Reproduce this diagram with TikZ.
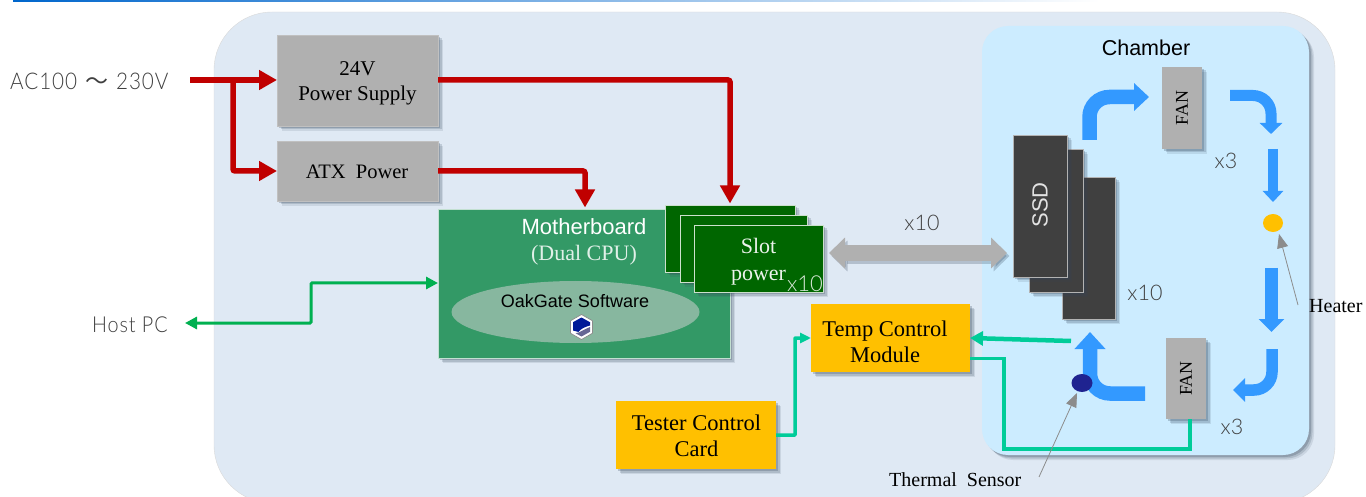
\documentclass[tikz,border=0pt]{standalone}
\usepackage{fontspec}
\usetikzlibrary{arrows.meta,shadows,positioning,shapes.geometric}
\setmainfont{Liberation Serif}
\setsansfont{Liberation Sans}
\newfontfamily\thinfont[UprightFont=* Light]{Lato}
\newfontfamily\thinnarrow[UprightFont=* Light,FakeStretch=.9,LetterSpace=4]{Lato}
\newfontfamily\cjkfont{Noto Sans CJK KR}
\definecolor{panelbg}{HTML}{DFE9F4}
\definecolor{chamberbg}{HTML}{CCECFF}
\definecolor{boxgrey}{HTML}{B0B0B0}
\definecolor{pwrred}{HTML}{C00000}
\definecolor{flowblue}{HTML}{3399FF}
\definecolor{gold}{HTML}{FFC000}
\definecolor{teal}{HTML}{00CC99}
\definecolor{hostgreen}{HTML}{00B050}
\definecolor{mbgreen}{HTML}{339966}
\definecolor{slotgreen}{HTML}{006600}
\definecolor{ssdgrey}{HTML}{404040}
\definecolor{labelgrey}{HTML}{404040}
\definecolor{shadowc}{HTML}{33455A}
\definecolor{ovalc}{HTML}{87B79F}
\definecolor{sensorc}{HTML}{1F2390}
\tikzset{
  shad/.style={
    drop shadow={shadow xshift=5pt,shadow yshift=-5pt,fill=shadowc,opacity=.12},
    drop shadow={shadow xshift=3.5pt,shadow yshift=-3.5pt,fill=shadowc,opacity=.18},
    drop shadow={shadow xshift=2pt,shadow yshift=-2pt,fill=shadowc,opacity=.25}},
  blk/.style={anchor=north west,inner sep=0pt,outer sep=0pt,shad},
  greybox/.style={blk,fill=boxgrey,draw=boxgrey!80!white,line width=.5pt},
  goldbox/.style={blk,fill=gold},
  slotbox/.style={blk,fill=slotgreen,draw=white!80!slotgreen,line width=.7pt},
  ssdbox/.style={blk,fill=ssdgrey,draw=white!60!ssdgrey,line width=.7pt},
  fanbox/.style={blk,fill=boxgrey,font=\fontsize{18}{20}\selectfont},
  goldtext/.style={font=\fontsize{22.5}{26}\selectfont,align=center,inner sep=0pt},
  boxtext/.style={align=center,inner sep=0pt},
  redline/.style={draw=pwrred,line width=5.5pt,rounded corners=2pt,-{Triangle[width=19pt,length=18pt]}},
  flow/.style={draw=flowblue,line width=#1},
  tealline/.style={draw=teal,line width=#1},
  hostline/.style={draw=hostgreen,line width=3pt,rounded corners=1pt,{Triangle[width=12pt,length=12pt]}-{Triangle[width=12pt,length=12pt]}},
  pointer/.style={draw=black!45,line width=.8pt,-{Triangle[width=11pt,length=14pt]}},
  thinlabel/.style={font=\thinfont\fontsize{21.5}{24}\selectfont,text=labelgrey,inner sep=0pt},
  serlabel/.style={font=\fontsize{20}{24}\selectfont,inner sep=0pt},
  bigarrow/.style={line width=16pt,{Triangle[width=30pt,length=16pt]}-{Triangle[width=30pt,length=16pt]}},
}
\begin{document}
\begin{tikzpicture}[x=1pt,y=-1pt]
\useasboundingbox (0,0) rectangle (1366,497);
\clip (0,0) rectangle (1366,497);
% top rule
\shade[left color=blue!50!cyan!80!black,right color=white] (13,0) rectangle (1100,1.2);
% panel
\fill[panelbg,draw=black!15,line width=.4pt,rounded corners=58pt] (214,12) rectangle (1335,503);
% chamber
\node[blk,fill=chamberbg,minimum width=327pt,minimum height=429pt,rounded corners=26pt] (chamber) at (982,26) {};
\node[font=\sffamily\fontsize{21.5}{24}\selectfont,inner sep=0pt] (chamberlbl) at (1146,48) {Chamber};

% power boxes
\node[greybox,minimum width=161pt,minimum height=91pt] (psu) at (277,35) {};
\node[boxtext,font=\fontsize{21}{25}\selectfont] (psul) at (357.5,83.5) {24V\\Power Supply};
\node[greybox,minimum width=161pt,minimum height=60pt] (atx) at (277,141) {};
\node[boxtext,font=\fontsize{20.5}{24}\selectfont] (atxl) at (357,172) {ATX\ \ Power};

% motherboard
\node[blk,fill=mbgreen,draw=white!70!mbgreen,line width=.7pt,minimum width=292pt,minimum height=149pt] (mb) at (438,209) {};
\node[font=\sffamily\fontsize{22}{24}\selectfont,text=white,inner sep=0pt] (mbl) at (584,227) {Motherboard};
\node[font=\fontsize{22}{24}\selectfont,text=white!85!mbgreen,inner sep=0pt] (mbl2) at (584,255.5) {(Dual CPU)};
\fill[fill=ovalc] (575.5,312) ellipse [x radius=124pt,y radius=31pt];
\node[font=\sffamily\fontsize{18}{20}\selectfont,inner sep=0pt] (oak) at (575,301) {OakGate Software};
% icon
\begin{scope}[shift={(581.5,327)}]
  \fill[white,draw=black!45,line width=.7pt] (0,-12.5) -- (11,-6.2) -- (11,6.2) -- (0,12.5) -- (-11,6.2) -- (-11,-6.2) -- cycle;
  \fill[blue!55!black!90!cyan] (0,-9.5) -- (8.5,-4.8) -- (8.5,-1.5) .. controls (3,0) and (-1,2) .. (-3,5) -- (-8.5,3.5) -- (-8.5,-4.8) -- cycle;
  \fill[black!70!blue!60!white] (8.5,0) -- (8.5,4.8) -- (0,9.5) -- (-6,6.2) .. controls (-2,6) and (3,2) .. (8.5,0) -- cycle;
\end{scope}

% slot power
\node[slotbox,minimum width=130pt,minimum height=67pt] (slot1) at (665,205) {};
\node[slotbox,minimum width=127pt,minimum height=67pt] (slot2) at (680,215) {};
\node[slotbox,minimum width=129pt,minimum height=67pt] (slot3) at (694,225) {};
\node[font=\fontsize{22}{27}\selectfont,text=white!92!slotgreen,align=center,inner sep=0pt] (slotl) at (758.5,262) {Slot\\power};
\node[font=\thinfont\fontsize{22}{24}\selectfont,text=white!85!slotgreen,inner sep=0pt] (slotx) at (805,284) {x10};

% SSDs
\node[ssdbox,minimum width=53pt,minimum height=142pt] (ssd3) at (1062,177) {};
\node[ssdbox,minimum width=54pt,minimum height=143pt] (ssd2) at (1029,149) {};
\node[ssdbox,minimum width=54pt,minimum height=142pt] (ssd1) at (1013,135) {};
\node[font=\sffamily\fontsize{22}{24}\selectfont,text=white!85!ssdgrey,rotate=90,inner sep=0pt] (ssdl) at (1040,205) {SSD};

% gold boxes
\node[goldbox,minimum width=159pt,minimum height=68pt] (temp) at (811,304) {};
\node[goldtext] (templ) at (885,342) {Temp Control\\Module};
\node[goldbox,minimum width=160pt,minimum height=68pt] (tester) at (616,401) {};
\node[goldtext] (testerl) at (696.5,436) {Tester Control\\Card};

% fans
\node[fanbox,minimum width=40pt,minimum height=82pt] (fan1) at (1162,67) {\rotatebox{90}{FAN}};
\node[fanbox,minimum width=40pt,minimum height=81pt] (fan2) at (1166,338) {\rotatebox{90}{FAN}};

% coordinates
\coordinate (ac) at (190,80);
\coordinate (split) at (233,80);
\coordinate (mbtop) at (585,207.5);
\coordinate (slottop) at (730,203.5);
\coordinate (hostend) at (185,323);
\coordinate (a1s) at (1089.5,140); \coordinate (a1t) at (1149,97);
\coordinate (a2s) at (1230,95.5); \coordinate (a2t) at (1271,134);
\coordinate (a3s) at (1273,149); \coordinate (a3t) at (1273,202);
\coordinate (a4s) at (1271.5,268); \coordinate (a4t) at (1271.5,332);
\coordinate (a5s) at (1272,349); \coordinate (a5t) at (1233,390);
\coordinate (a6s) at (1145,393.5); \coordinate (a6t) at (1090,332);
\coordinate (sensorout) at (1071,341);
\coordinate (busl) at (829,253);
\coordinate (busr) at (1007,253);

% red connectors
\draw[redline] (ac) -- (psu.west|-ac);
\draw[redline] (split) |- (atx.west);
\draw[redline] (psu.east|-ac) -| (slottop);
\draw[redline] (atx.east) -| (mbtop);

% host & teal
\draw[hostline] (hostend) -- (311,323) -- (311,283) -- (mb.west|-0,283);
\draw[tealline=3.5pt,rounded corners=.5pt,-{Triangle[width=10pt,length=11pt]}] (tester.east) -- (795,435) -- (795,338) -- (temp.west|-0,338);
\draw[tealline=4.5pt,-{Triangle[width=14pt,length=13pt]}] (sensorout) -- (temp.east);
\draw[tealline=3.5pt] (fan2.south-|1190,0) -- (1190,449) -- (1004,449) -- (1004,358.5) -- (temp.east|-0,358.5);

% grey double arrow
\draw[bigarrow,draw=shadowc,draw opacity=.25,fill opacity=.25,transform canvas={xshift=2.5pt,yshift=-3pt}] (busl) -- (busr);
\draw[bigarrow,draw=boxgrey] (busl) -- (busr);

% flow arrows
\draw[flow=14.5pt,rounded corners=20pt,-{Triangle[width=27pt,length=15pt]}] (a1s) |- (a1t);
\draw[flow=11pt,rounded corners=18pt,-{Triangle[width=22pt,length=11pt]}] (a2s) -| (a2t);
\draw[flow=10pt,-{Triangle[width=20pt,length=11pt]}] (a3s) -- (a3t);
\draw[flow=12.5pt,-{Triangle[width=25pt,length=13pt]}] (a4s) -- (a4t);
\draw[flow=11.5pt,rounded corners=18pt,-{Triangle[width=23pt,length=12pt]}] (a5s) |- (a5t);
\draw[flow=14.5pt,rounded corners=20pt,-{Triangle[width=30pt,length=17pt]}] (a6s) -| (a6t);

% heater & sensor
\node[ellipse,fill=gold,minimum width=20pt,minimum height=18pt,inner sep=0pt] (heater) at (1273,223) {};
\node[ellipse,fill=sensorc,minimum width=21pt,minimum height=18pt,inner sep=0pt] (sensor) at (1082,383) {};
\coordinate (hp) at (1298,305);
\coordinate (sp) at (1039,477);
\draw[pointer] (hp) -- (1279,234);
\draw[pointer] (sp) -- (1077,393);

% labels
\node[serlabel,anchor=west] (heaterl) at (1309,306) {Heater};
\node[serlabel,anchor=west] (sensl) at (889,480) {Thermal\ \ Sensor};
\node[thinlabel] (x3a) at (1226,161) {x3};
\node[thinlabel] (x3b) at (1232,427) {x3};
\node[thinlabel] (x10a) at (1145,293) {x10};
\node[thinlabel] (x10b) at (922,223) {x10};
\node[thinlabel,font=\thinnarrow\fontsize{23}{26}\selectfont,anchor=west] (aclbl) at (10,81) {AC100\hspace{8pt}{\cjkfont ～}\hspace{8pt}230V};
\node[thinlabel,font=\thinnarrow\fontsize{22}{26}\selectfont,anchor=west] (hostlbl) at (92,325) {Host PC};
\end{tikzpicture}
\end{document}
